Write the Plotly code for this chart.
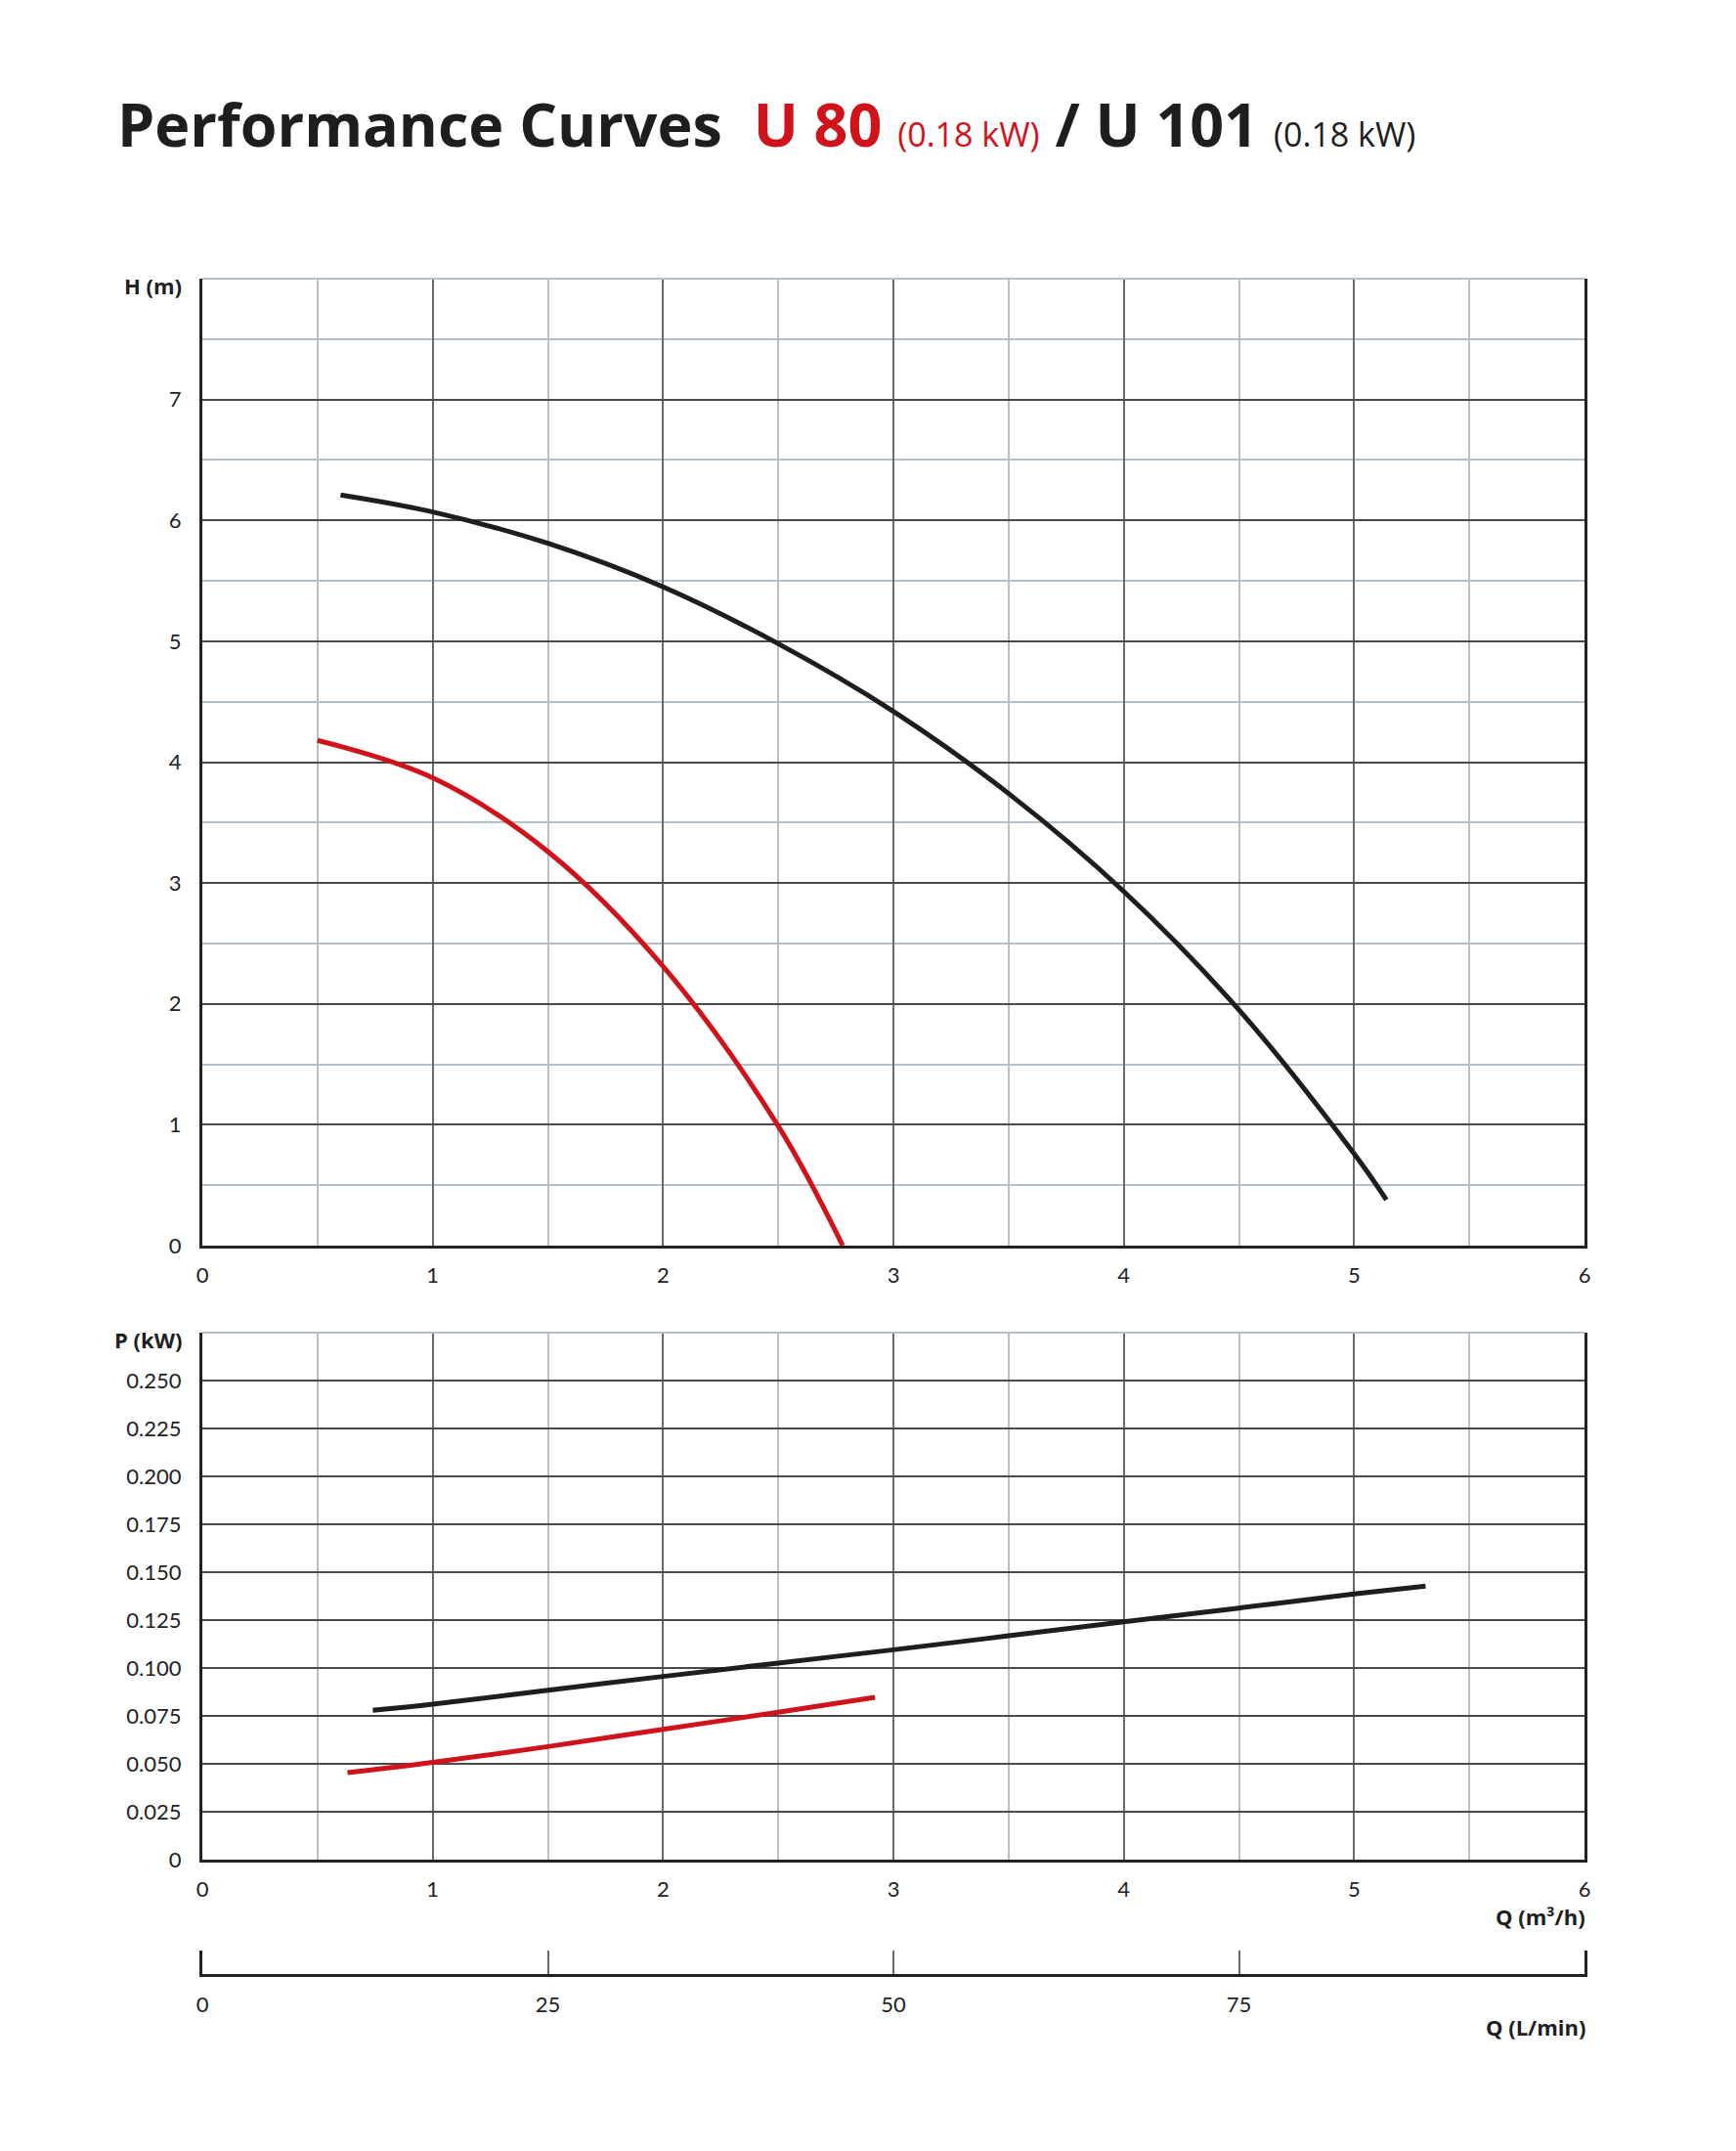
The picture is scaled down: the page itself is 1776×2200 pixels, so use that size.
import plotly.graph_objects as go

# ---------------- data ----------------
q_h_u80 = [0.50, 1.00, 1.50, 2.00, 2.50, 2.78]
h_u80 = [4.18, 3.87, 3.26, 2.31, 0.99, 0.00]

q_h_u101 = [0.60, 1.00, 1.50, 2.00, 2.50, 3.00, 3.50, 4.00, 4.50, 5.00, 5.14]
h_u101 = [6.21, 6.07, 5.81, 5.45, 4.98, 4.42, 3.74, 2.93, 1.95, 0.76, 0.38]

q_p_u80 = [0.63, 1.00, 1.50, 2.00, 2.50, 2.92]
p_u80 = [0.0454, 0.0508, 0.0590, 0.0680, 0.0769, 0.0847]

q_p_u101 = [0.74, 1.00, 1.50, 2.00, 2.50, 3.00, 3.50, 4.00, 4.50, 5.00, 5.31]
p_u101 = [0.0779, 0.0811, 0.0884, 0.0956, 0.1026, 0.1095, 0.1168, 0.1241, 0.1313, 0.1386, 0.1427]

q_ticks = [0, 1, 2, 3, 4, 5, 6]
h_ticks = [0, 1, 2, 3, 4, 5, 6, 7]
p_ticks = [0, 0.025, 0.05, 0.075, 0.1, 0.125, 0.15, 0.175, 0.2, 0.225, 0.25]
p_tick_text = ["0", "0.025", "0.050", "0.075", "0.100", "0.125", "0.150", "0.175", "0.200", "0.225", "0.250"]
lmin_ticks = [0, 25, 50, 75, 100]
lmin_tick_text = ["0", "25", "50", "75", ""]

RED = "#d0131b"
BLACK = "#1e1e1e"
MAJOR = "#6a6a6a"
HMAJOR = "#4a4a4a"
MINOR = "#b5c0cb"
AXIS = "#222222"
FONT = "Lato"
LFONT = "Open Sans"

W, H = 1776, 2200
L, R, T, B = 207, 1621, 285, 2019
ph = B - T
def py(v):
    return (B - v) / ph

fig = go.Figure()
fig.add_trace(go.Scatter(x=q_h_u80, y=h_u80, mode="lines", line=dict(color=RED, width=5, shape="spline"), xaxis="x", yaxis="y", showlegend=False))
fig.add_trace(go.Scatter(x=q_h_u101, y=h_u101, mode="lines", line=dict(color=BLACK, width=5, shape="spline"), xaxis="x", yaxis="y", showlegend=False))
fig.add_trace(go.Scatter(x=q_p_u80, y=p_u80, mode="lines", line=dict(color=RED, width=5, shape="spline"), xaxis="x2", yaxis="y2", showlegend=False))
fig.add_trace(go.Scatter(x=q_p_u101, y=p_u101, mode="lines", line=dict(color=BLACK, width=5, shape="spline"), xaxis="x2", yaxis="y2", showlegend=False))
fig.add_trace(go.Scatter(x=[None], y=[None], mode="lines", xaxis="x3", yaxis="y3", showlegend=False, hoverinfo="skip"))

tickfont = dict(family=FONT, size=22, color="#222222")

def qaxis(anchor):
    return dict(domain=[0, 1], anchor=anchor, range=[0, 6], tickmode="array", tickvals=q_ticks,
                showgrid=True, gridcolor=MAJOR, gridwidth=1.5,
                minor=dict(tickmode="array", tickvals=[0.5, 1.5, 2.5, 3.5, 4.5, 5.5], showgrid=True, gridcolor=MINOR, gridwidth=1.5, ticks=""),
                showline=True, linecolor=AXIS, linewidth=3, zeroline=False, ticks="",
                tickfont=tickfont, ticklabelstandoff=9, fixedrange=True)

fig.update_layout(
    width=W, height=H,
    margin=dict(l=L, r=W - R, t=T, b=H - B),
    paper_bgcolor="white", plot_bgcolor="white",
    xaxis=qaxis("y"),
    yaxis=dict(domain=[py(1274), 1], anchor="x", range=[0, 8], tickmode="array", tickvals=h_ticks,
               showgrid=True, gridcolor=HMAJOR, gridwidth=1.5,
               minor=dict(tickmode="array", tickvals=[0.5, 1.5, 2.5, 3.5, 4.5, 5.5, 6.5, 7.5], showgrid=True, gridcolor=MINOR, gridwidth=1.5, ticks=""),
               showline=True, mirror=True, linecolor=AXIS, linewidth=3, zeroline=False, ticks="",
               tickfont=tickfont, ticklabelstandoff=14),
    xaxis2=qaxis("y2"),
    yaxis2=dict(domain=[py(1902), py(1363)], anchor="x2", range=[0, 0.275], tickmode="array",
                tickvals=p_ticks, ticktext=p_tick_text,
                showgrid=True, gridcolor=HMAJOR, gridwidth=1.5,
                showline=True, mirror=True, linecolor=AXIS, linewidth=3, zeroline=False, ticks="",
                tickfont=tickfont, ticklabelstandoff=14),
    xaxis3=dict(domain=[0, 1], anchor="y3", range=[0, 100], tickmode="array", tickvals=lmin_ticks, ticktext=lmin_tick_text,
                showgrid=True, gridcolor=MAJOR, gridwidth=1.5,
                minor=dict(tickmode="array", tickvals=[25, 75], showgrid=True, gridcolor=MINOR, gridwidth=1.5, ticks=""),
                showline=True, linecolor=AXIS, linewidth=3, zeroline=False, ticks="",
                tickfont=tickfont, ticklabelstandoff=10),
    yaxis3=dict(domain=[0, 24 / ph], anchor="x3", range=[0, 1], showgrid=False, showticklabels=False,
                showline=True, mirror=True, linecolor=AXIS, linewidth=3, zeroline=False, ticks=""),
)

# top borders (light)
fig.add_shape(type="line", xref="x domain", yref="y domain", x0=0, x1=1, y0=1, y1=1, line=dict(color=MINOR, width=2), layer="above")
fig.add_shape(type="line", xref="x2 domain", yref="y2 domain", x0=0, x1=1, y0=1, y1=1, line=dict(color=MINOR, width=2), layer="above")

lab = dict(family=LFONT, size=22, color="#1e1e1e")
fig.add_annotation(text="<b>H (m)</b>", xref="paper", yref="y domain", x=0, y=1, xanchor="right", yanchor="middle",
                   xshift=-19, yshift=-7, showarrow=False, font=lab)
fig.add_annotation(text="<b>P (kW)</b>", xref="paper", yref="y2 domain", x=0, y=1, xanchor="right", yanchor="middle",
                   xshift=-19, yshift=-7, showarrow=False, font=lab)
fig.add_annotation(text="<b>Q (m³/h)</b>", xref="paper", yref="paper", x=1, y=py(1960), xanchor="right", yanchor="middle",
                   xshift=3, showarrow=False, font=lab)
fig.add_annotation(text="<b>Q (L/min)</b>", xref="paper", yref="paper", x=1, y=py(2073), xanchor="right", yanchor="middle",
                   xshift=3, showarrow=False, font=lab)

title = ("<b>Performance Curves</b>&nbsp;&nbsp;"
         "<span style='color:%s'><b>U 80</b></span> "
         "<span style='color:%s;font-size:34px'>(0.18 kW)</span> "
         "<b>/ U 101</b> "
         "<span style='font-size:34px'>(0.18 kW)</span>") % (RED, RED)
fig.add_annotation(text=title, xref="paper", yref="paper", x=(118 - L) / (R - L), y=py(126), xanchor="left", yanchor="middle",
                   showarrow=False, font=dict(family=LFONT, size=61, color="#1e1e1e"))

fig.write_html("out.html")
